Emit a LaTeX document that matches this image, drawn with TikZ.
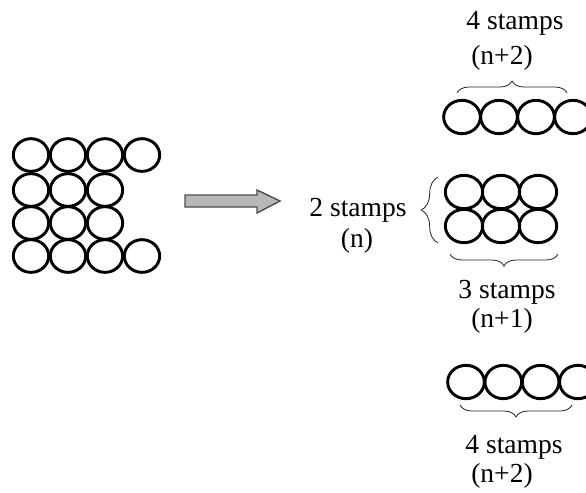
\documentclass[tikz,border=0pt]{standalone}
\usepackage{fontspec}
\setmainfont{Liberation Serif}
\usetikzlibrary{decorations.pathreplacing}
\tikzset{
  stamp/.style={line width=2.5pt, black},
  curly/.style={decorate, decoration={brace, amplitude=0.36cm}, line width=0.7pt, black!85},
  lbl/.style={inner sep=0pt, font=\fontsize{23.5}{26}\selectfont}
}
\begin{document}
\begin{tikzpicture}[x=0.03cm, y=-0.03cm]
		\useasboundingbox (0,0) rectangle (586,492);
		\clip (0,0) rectangle (586,492);
		% foglio di partenza
		\foreach \y/\n in {155/4, 190/3, 223/3, 256/4}
		  \foreach \i in {1,...,\n}
		    \draw[stamp] ({31+37*(\i-1)}, \y) ellipse [x radius=0.53cm, y radius=0.49cm];
		% freccia
		\filldraw[color=black!70, fill=black!28, line width=1.2pt]
		(185, 195) --
		(257, 195) --
		(257, 190) --
		(280, 201) --
		(257, 213) --
		(257, 207) --
		(185, 207) --
		cycle;
		% striscia in alto
		\foreach \i in {0,...,3}
		  \draw[stamp] ({462+37*\i}, 117) ellipse [x radius=0.55cm, y radius=0.5cm];
		\coordinate (topA) at (457, 93);
		\coordinate (topB) at (567, 93);
		\draw[curly] (topA) -- (topB);
		\node[lbl] (top4) at (515, 23) {4 stamps};
		\node[lbl] (topn) at (502, 58) {(n+2)};
		% blocco centrale
		\foreach \y in {192, 226}
		  \foreach \i in {0,...,2}
		    \draw[stamp] ({464+37*\i}, \y) ellipse [x radius=0.56cm, y radius=0.5cm];
		\coordinate (midA) at (438, 243);
		\coordinate (midB) at (438, 177);
		\draw[curly, decoration={amplitude=0.5cm}] (midA) -- (midB);
		\node[lbl] (mid2) at (358, 210) {2 stamps};
		\node[lbl] (midn) at (357, 241) {(n)};
		\coordinate (midC) at (558, 254);
		\coordinate (midD) at (450, 254);
		\draw[curly] (midC) -- (midD);
		\node[lbl] (mid3) at (507, 292) {3 stamps};
		\node[lbl] (midm) at (502, 321) {(n+1)};
		% striscia in basso
		\foreach \i in {0,...,3}
		  \draw[stamp] ({466+37.3*\i}, 382) ellipse [x radius=0.55cm, y radius=0.5cm];
		\coordinate (botA) at (572, 405);
		\coordinate (botB) at (460, 405);
		\draw[curly] (botA) -- (botB);
		\node[lbl] (bot4) at (514, 447) {4 stamps};
		\node[lbl] (botn) at (502, 476) {(n+2)};
	\end{tikzpicture}
\end{document}
